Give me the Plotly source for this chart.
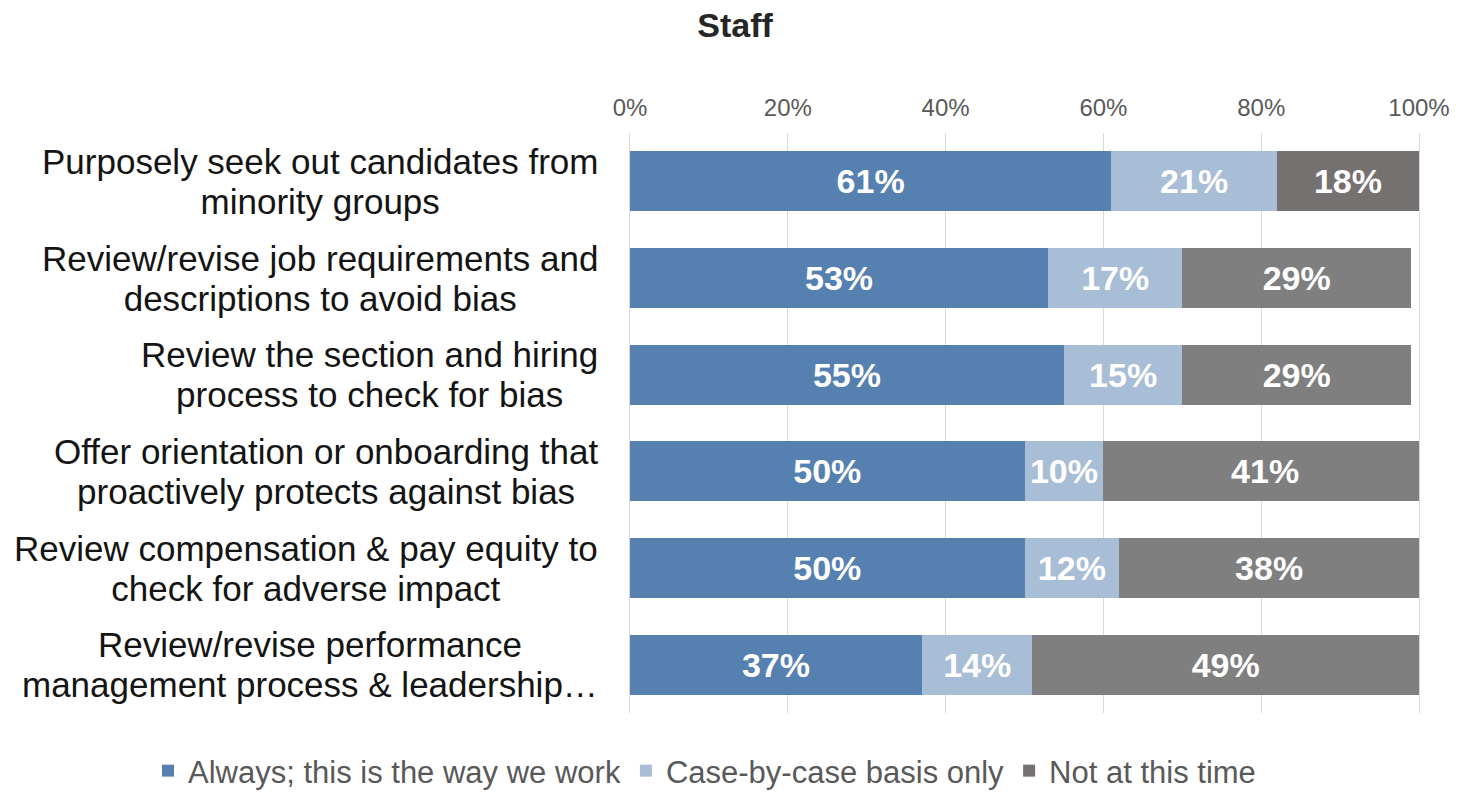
import plotly.graph_objects as go

categories = [
    "Purposely seek out candidates from<br>minority groups",
    "Review/revise job requirements and<br>descriptions to avoid bias",
    "Review the section and hiring<br>process to check for bias",
    "Offer orientation or onboarding that<br>proactively protects against bias",
    "Review compensation & pay equity to<br>check for adverse impact",
    "Review/revise performance<br>management process & leadership…",
]
always = [61, 53, 55, 50, 50, 37]
case_by_case = [21, 17, 15, 10, 12, 14]
not_now = [18, 29, 29, 41, 38, 49]
tick_vals = [0, 20, 40, 60, 80, 100]
tick_text = ["0%", "20%", "40%", "60%", "80%", "100%"]

series_names = ["Always; this is the way we work", "Case-by-case basis only", "Not at this time"]
blue = "#5580B0"
light = "#A8BDD6"
gray = "#7F7F7F"
gray_first = "#767171"

FONT = "Liberation Sans, Arial, sans-serif"
ykeys = list(range(len(categories)))

fig = go.Figure()
for name, vals, col in [
    (series_names[0], always, blue),
    (series_names[1], case_by_case, light),
    (series_names[2], not_now, [gray_first] + [gray] * (len(categories) - 1)),
]:
    fig.add_trace(go.Bar(
        y=ykeys, x=vals, name=name, orientation="h",
        marker=dict(color=col, line=dict(width=0)),
        text=[f"{v}%" for v in vals], textposition="inside",
        insidetextanchor="middle", constraintext="none",
        textfont=dict(family=FONT, size=34, color="white", weight="bold"),
        hoverinfo="skip",
    ))

for k, cat in zip(ykeys, categories):
    styled = "<br>".join(f"<span style='font-size:35px'>{ln}</span>" for ln in cat.split("<br>"))
    fig.add_annotation(
        x=0, xref="paper", xanchor="right", xshift=-30,
        y=k, yref="y", yanchor="middle",
        text=styled, align="center", showarrow=False,
        font=dict(family=FONT, size=31, color="#141414"),
    )

fig.update_layout(
    barmode="stack",
    bargap=0.38,
    width=1460, height=793,
    margin=dict(l=630, r=41, t=133, b=80, autoexpand=False),
    paper_bgcolor="white", plot_bgcolor="white",
    title=dict(text="<b>Staff</b>", x=735 / 1460, xanchor="center", y=1 - 25 / 793, yanchor="middle",
               font=dict(family=FONT, size=34, color="#262626")),
    xaxis=dict(
        side="top", range=[0, 100], tickvals=tick_vals, ticktext=tick_text,
        showgrid=True, gridcolor="#D9D9D9", gridwidth=1, zeroline=False, showline=False,
        ticks="", ticklabelstandoff=11, layer="below traces",
        tickfont=dict(family=FONT, size=24, color="#595959"),
        fixedrange=True,
    ),
    yaxis=dict(
        autorange="reversed", showticklabels=False, showgrid=False, zeroline=False,
        showline=True, mirror=True, linecolor="#D9D9D9", linewidth=1,
        layer="below traces", ticks="", fixedrange=True,
    ),
    legend=dict(
        orientation="h", xref="paper", x=(148 - 630) / 789, xanchor="left",
        y=-(771 - 713) / 580, yanchor="middle",
        font=dict(family=FONT, size=31, color="#595959"),
        traceorder="normal",
    ),
    showlegend=True,
)

fig.write_html("out.html")
